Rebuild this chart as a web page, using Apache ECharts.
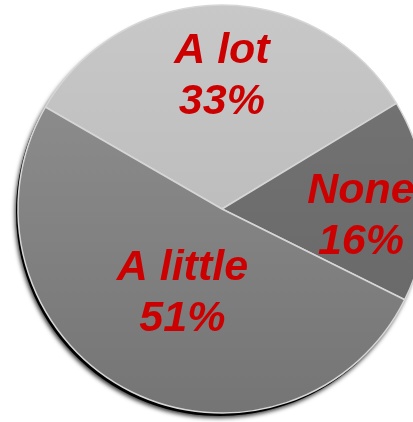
<!DOCTYPE html>
<html>
<head>
<meta charset="utf-8">
<script src="https://cdn.jsdelivr.net/npm/echarts@6/dist/echarts.min.js"></script>
<style>
  html, body { margin: 0; padding: 0; background: #ffffff; }
  #chart { width: 413px; height: 422px; }
</style>
</head>
<body>
<div id="chart"></div>
<script>
// Survey answers and their shares (percent)
const categories = ['A lot', 'None', 'A little'];
const shares = [33, 16, 51];

// Slice fills: top and bottom stops of a vertical gradient
const fillTop = ['#c8c8c8', '#767676', '#939393'];
const fillBottom = ['#b3b3b3', '#656565', '#747474'];
// Nudges for the slice labels
const labelOffsets = [[1, -27], [34, 12], [10, -8]];

const chart = echarts.init(document.getElementById('chart'), null, { renderer: 'canvas' });

function grad(top, bottom) {
  return new echarts.graphic.LinearGradient(0, 0, 0, 422, [
    { offset: 0, color: top },
    { offset: 1, color: bottom }
  ], true);
}

const mainData = categories.map((name, i) => ({
  name: name,
  value: shares[i],
  itemStyle: { color: grad(fillTop[i], fillBottom[i]) },
  label: { offset: labelOffsets[i] }
}));

const shadowData = categories.map((name, i) => ({ name: name, value: shares[i] }));

chart.setOption({
  backgroundColor: '#ffffff',
  animation: false,
  series: [
    {
      // dark backing disc that casts the drop shadow
      type: 'pie',
      silent: true,
      z: 1,
      center: [220, 212],
      radius: 204,
      startAngle: 150,
      data: shadowData,
      label: { show: false },
      labelLine: { show: false },
      itemStyle: {
        color: '#000000',
        borderWidth: 0,
        shadowColor: 'rgba(0,0,0,0.8)',
        shadowBlur: 4,
        shadowOffsetX: -1,
        shadowOffsetY: 2
      }
    },
    {
      type: 'pie',
      z: 2,
      center: [222, 209],
      radius: 204,
      startAngle: 150,
      clockwise: true,
      data: mainData,
      itemStyle: {
        borderColor: '#d6d6d6',
        borderWidth: 1.5
      },
      label: {
        show: true,
        position: 'inside',
        formatter: p => p.name + '\n' + p.value + '%',
        color: '#cc0000',
        fontFamily: '"Liberation Sans", Arial, sans-serif',
        fontWeight: 'bold',
        fontStyle: 'italic',
        fontSize: 43,
        lineHeight: 51,
        align: 'center'
      },
      labelLine: { show: false },
      emphasis: { disabled: true }
    }
  ]
});
</script>
</body>
</html>
